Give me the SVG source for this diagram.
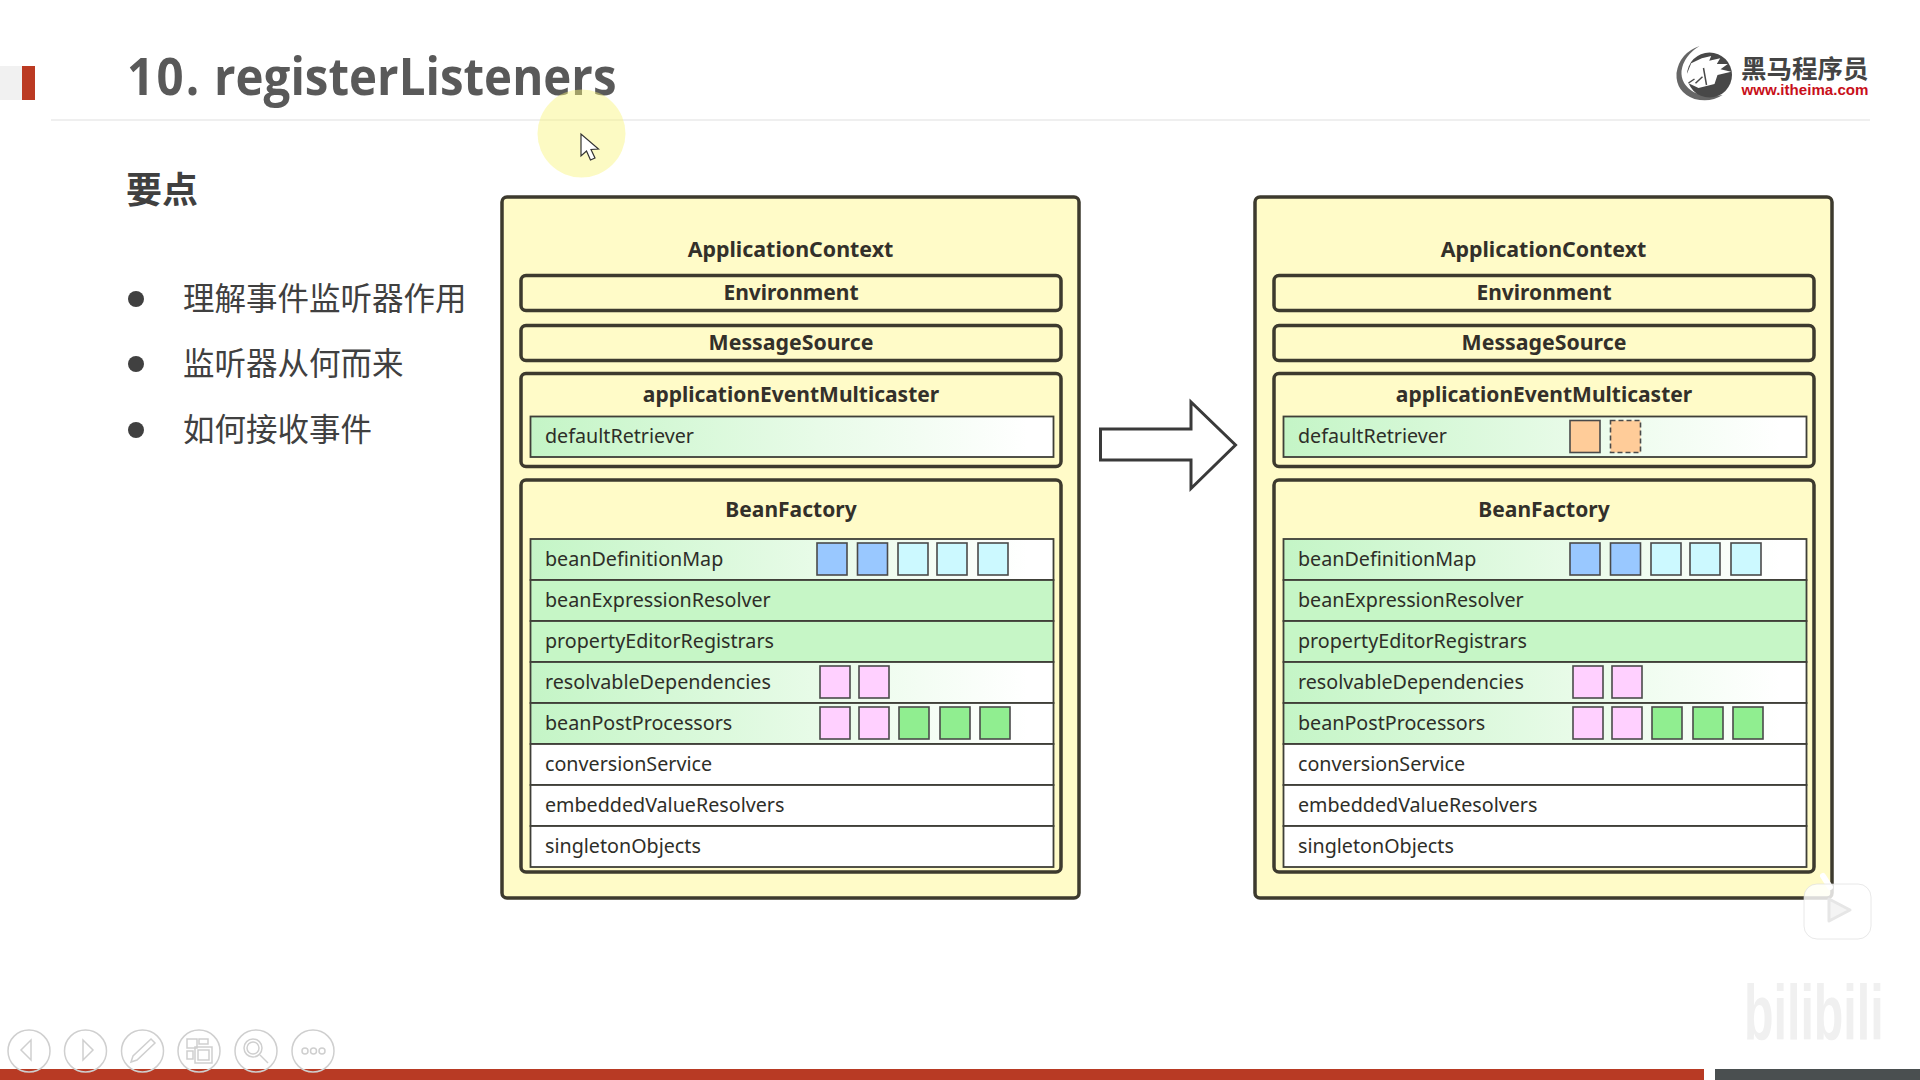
<svg xmlns="http://www.w3.org/2000/svg" width="1920" height="1080" viewBox="0 0 1920 1080">
<style>
text{font-family:"Noto Sans","Noto Sans CJK SC",sans-serif}
.cjk{font-family:"Noto Sans CJK SC",sans-serif}
.outer{fill:#fffbc8;stroke:#3d3a2e;stroke-width:3.5}
.inner{fill:#fffbc8;stroke:#3d3a2e;stroke-width:3.5}
.h{font-size:21px;font-weight:700;fill:#33302a;text-anchor:middle}
.r{font-size:19.7px;fill:#2e2e28}
.row{stroke:#3f3f38;stroke-width:1.8}
.grad{fill:url(#rowGrad)}
.green{fill:#c6f6c6}
.white{fill:#fff}
.sq{stroke:#4a4a4a;stroke-width:1.6}
.blue{fill:#99c8ff}.cyan{fill:#ccf9ff}.pink{fill:#ffd0ff}.lime{fill:#90ee90}.orange{fill:#ffcc99}
.tb{fill:none;stroke:#cfcfcf;stroke-width:1.5}
.bul{font-size:31.5px;fill:#404040}
</style>
<defs>
<linearGradient id="rowGrad" x1="0" y1="0" x2="1" y2="0"><stop offset="0" stop-color="#c4f5c6"/><stop offset="0.55" stop-color="#e8fbe8"/><stop offset="0.95" stop-color="#fff"/></linearGradient>
</defs>
<rect width="1920" height="1080" fill="#fff"/>

<g id="header">
<rect x="0" y="66" width="22" height="34" fill="#f1f1f1"/>
<rect x="22" y="66" width="13" height="34" fill="#bb3a22"/>
<text transform="translate(127 95) scale(.913 1)" font-size="52" font-weight="700" fill="#595959" style="font-family:'Open Sans','Noto Sans',sans-serif"><tspan letter-spacing="2.5">10.</tspan> registerListeners</text>
<rect x="51" y="119" width="1819" height="2" fill="#efefef"/>
</g>

<g id="pointer">
<ellipse cx="581.5" cy="133.5" rx="44" ry="44" fill="#f9f37a" fill-opacity=".45"/>
<path d="M581 134V156L586.500 151L590.500 160L595 158L591 149.500L598.500 149Z" fill="#fff" stroke="#333" stroke-width="1.200"/>
</g>

<g id="logo" >
<g transform="translate(-1.500 0)">
<path d="M1701 46Q1681 53 1678 73Q1677 92 1696 99Q1712 103 1724 95Q1708 98 1695 92Q1682 84 1683 71Q1685 56 1701 46Z" fill="#666"/>
<circle cx="1711" cy="75" r="22.500" fill="#484848"/>
<path d="M1686.700 78.300L1692.700 63.300L1703.300 58.300L1712.700 56L1710.700 60.700L1721.700 58.300L1718.300 64L1729.300 64L1722 69.300L1732.700 71.700L1719 75L1716 84L1700 88L1690 83.300Z" fill="#fff"/>
<path d="M1705 68L1708 85M1704 76.700L1697 83.300M1690 83L1696 79" fill="none" stroke="#4a4a4a" stroke-width="1.500"/>
</g>
<text class="cjk" x="1741" y="78" font-size="25.500" font-weight="700" fill="#444">黑马程序员</text>
<text x="1741.500" y="95" font-size="15.100" font-weight="700" fill="#c8101a" style="font-family:'Liberation Sans',sans-serif">www.itheima.com</text>
</g>

<g id="points">
<text class="cjk" x="126" y="203" font-size="36" font-weight="700" fill="#404040">要点</text>
<circle cx="136" cy="299" r="8" fill="#404040"/>
<text class="cjk bul" x="183" y="309.500">理解事件监听器作用</text>
<circle cx="136" cy="364" r="8" fill="#404040"/>
<text class="cjk bul" x="183" y="374.500">监听器从何而来</text>
<circle cx="136" cy="430" r="8" fill="#404040"/>
<text class="cjk bul" x="183" y="440.500">如何接收事件</text>
</g>

<g id="connectors">
<path d="M1100.500 429H1191V402L1235.500 445L1191 488.500V460H1100.500Z" fill="#fff" stroke="#3a3a3a" stroke-width="3"/>
</g>

<g id="panel-before">
<g id="before-context"><rect class="outer" x="502" y="197" width="577" height="701" rx="5"/><text class="h" style="font-size:21.4px" x="790.500" y="257">ApplicationContext</text></g>
<g id="before-environment"><rect class="inner" x="521" y="275.500" width="540" height="35" rx="5"/><text class="h" x="791" y="300">Environment</text></g>
<g id="before-messagesource"><rect class="inner" x="521" y="325.500" width="540" height="35" rx="5"/><text class="h" style="font-size:21.3px" x="791" y="350">MessageSource</text></g>
<g id="before-multicaster"><rect class="inner" x="521" y="373.500" width="540" height="93" rx="5"/><text class="h" x="791" y="402">applicationEventMulticaster</text>
<rect class="row grad" x="530.500" y="416.500" width="523" height="40.500"/><text class="r" x="545" y="443">defaultRetriever</text></g>
<g id="before-beanfactory"><rect class="inner" x="521" y="480" width="540" height="392" rx="5"/><text class="h" x="791" y="517">BeanFactory</text>
<rect class="row grad" x="530.500" y="539" width="523" height="41"/><text class="r" x="545" y="565.500">beanDefinitionMap</text>
<rect class="sq blue" x="817" y="543" width="30" height="32"/><rect class="sq blue" x="857.500" y="543" width="30" height="32"/><rect class="sq cyan" x="898" y="543" width="30" height="32"/><rect class="sq cyan" x="937" y="543" width="30" height="32"/><rect class="sq cyan" x="978" y="543" width="30" height="32"/>
<rect class="row green" x="530.500" y="580" width="523" height="41"/><text class="r" x="545" y="606.500">beanExpressionResolver</text>
<rect class="row green" x="530.500" y="621" width="523" height="41"/><text class="r" x="545" y="647.500">propertyEditorRegistrars</text>
<rect class="row grad" x="530.500" y="662" width="523" height="41"/><text class="r" x="545" y="688.500">resolvableDependencies</text>
<rect class="sq pink" x="820" y="666" width="30" height="32"/><rect class="sq pink" x="859" y="666" width="30" height="32"/>
<rect class="row grad" x="530.500" y="703" width="523" height="41"/><text class="r" x="545" y="729.500">beanPostProcessors</text>
<rect class="sq pink" x="820" y="707" width="30" height="32"/><rect class="sq pink" x="859" y="707" width="30" height="32"/><rect class="sq lime" x="899" y="707" width="30" height="32"/><rect class="sq lime" x="940" y="707" width="30" height="32"/><rect class="sq lime" x="980" y="707" width="30" height="32"/>
<rect class="row white" x="530.500" y="744" width="523" height="41"/><text class="r" x="545" y="770.500">conversionService</text>
<rect class="row white" x="530.500" y="785" width="523" height="41"/><text class="r" x="545" y="811.500">embeddedValueResolvers</text>
<rect class="row white" x="530.500" y="826" width="523" height="41"/><text class="r" x="545" y="852.500">singletonObjects</text>
</g>
</g>

<g id="panel-after" transform="translate(753 0)">
<g id="after-context"><rect class="outer" x="502" y="197" width="577" height="701" rx="5"/><text class="h" style="font-size:21.4px" x="790.500" y="257">ApplicationContext</text></g>
<g id="after-environment"><rect class="inner" x="521" y="275.500" width="540" height="35" rx="5"/><text class="h" x="791" y="300">Environment</text></g>
<g id="after-messagesource"><rect class="inner" x="521" y="325.500" width="540" height="35" rx="5"/><text class="h" style="font-size:21.3px" x="791" y="350">MessageSource</text></g>
<g id="after-multicaster"><rect class="inner" x="521" y="373.500" width="540" height="93" rx="5"/><text class="h" x="791" y="402">applicationEventMulticaster</text>
<rect class="row grad" x="530.500" y="416.500" width="523" height="40.500"/><text class="r" x="545" y="443">defaultRetriever</text>
<rect class="sq orange" x="817" y="420.500" width="30" height="32"/><rect class="sq orange" x="857.500" y="420.500" width="30" height="32" stroke-dasharray="5 3"/></g>
<g id="after-beanfactory"><rect class="inner" x="521" y="480" width="540" height="392" rx="5"/><text class="h" x="791" y="517">BeanFactory</text>
<rect class="row grad" x="530.500" y="539" width="523" height="41"/><text class="r" x="545" y="565.500">beanDefinitionMap</text>
<rect class="sq blue" x="817" y="543" width="30" height="32"/><rect class="sq blue" x="857.500" y="543" width="30" height="32"/><rect class="sq cyan" x="898" y="543" width="30" height="32"/><rect class="sq cyan" x="937" y="543" width="30" height="32"/><rect class="sq cyan" x="978" y="543" width="30" height="32"/>
<rect class="row green" x="530.500" y="580" width="523" height="41"/><text class="r" x="545" y="606.500">beanExpressionResolver</text>
<rect class="row green" x="530.500" y="621" width="523" height="41"/><text class="r" x="545" y="647.500">propertyEditorRegistrars</text>
<rect class="row grad" x="530.500" y="662" width="523" height="41"/><text class="r" x="545" y="688.500">resolvableDependencies</text>
<rect class="sq pink" x="820" y="666" width="30" height="32"/><rect class="sq pink" x="859" y="666" width="30" height="32"/>
<rect class="row grad" x="530.500" y="703" width="523" height="41"/><text class="r" x="545" y="729.500">beanPostProcessors</text>
<rect class="sq pink" x="820" y="707" width="30" height="32"/><rect class="sq pink" x="859" y="707" width="30" height="32"/><rect class="sq lime" x="899" y="707" width="30" height="32"/><rect class="sq lime" x="940" y="707" width="30" height="32"/><rect class="sq lime" x="980" y="707" width="30" height="32"/>
<rect class="row white" x="530.500" y="744" width="523" height="41"/><text class="r" x="545" y="770.500">conversionService</text>
<rect class="row white" x="530.500" y="785" width="523" height="41"/><text class="r" x="545" y="811.500">embeddedValueResolvers</text>
<rect class="row white" x="530.500" y="826" width="523" height="41"/><text class="r" x="545" y="852.500">singletonObjects</text>
</g>
</g>

<g id="footer">
<rect x="0" y="1069" width="1704" height="11" fill="#b83a24"/>
<rect x="1715" y="1069" width="205" height="11" fill="#4a4f50"/>
</g>

<g id="toolbar">
<circle class="tb" cx="29" cy="1051" r="21"/><path class="tb" d="M31 1040V1060L21 1050Z"/>
<circle class="tb" cx="85.500" cy="1051" r="21"/><path class="tb" d="M83 1040V1060L93 1050Z"/>
<circle class="tb" cx="142.500" cy="1051" r="21"/><path class="tb" d="M131 1062L133 1056L151 1039L155 1043L137 1060Z"/>
<circle class="tb" cx="199" cy="1051" r="21"/><path class="tb" d="M187 1039H197V1048H187ZM199 1039H208V1044H199ZM187 1051H193V1059H187ZM195 1047H212V1063H195ZM198 1050H209V1060H198Z"/>
<circle class="tb" cx="256" cy="1051" r="21"/><circle class="tb" cx="253" cy="1048" r="9"/><circle class="tb" cx="253" cy="1048" r="6"/><path class="tb" stroke-width="3" d="M260 1055L268 1063"/>
<circle class="tb" cx="313" cy="1051" r="21"/><circle class="tb" cx="305" cy="1051" r="3"/><circle class="tb" cx="313.500" cy="1051" r="3"/><circle class="tb" cx="322" cy="1051" r="3"/>
</g>

<g id="watermark">
<path d="M1823 876L1830 887M1852 876L1846 887" stroke="#fff" stroke-width="6" stroke-linecap="round"/>
<rect x="1804" y="884" width="67" height="55" rx="13" fill="#fff" fill-opacity=".82" stroke="#d8d8d8" stroke-opacity=".6"/>
<path d="M1829 899V921L1850 910Z" fill="#f4f4f4" stroke="#e6e6e6" stroke-width="3" stroke-linejoin="round"/>
<text transform="translate(1744 1040) scale(.62 1)" font-size="78" font-weight="700" fill="#f0f0f0" style="font-family:'Liberation Sans',sans-serif">bilibili</text>
</g>
</svg>
